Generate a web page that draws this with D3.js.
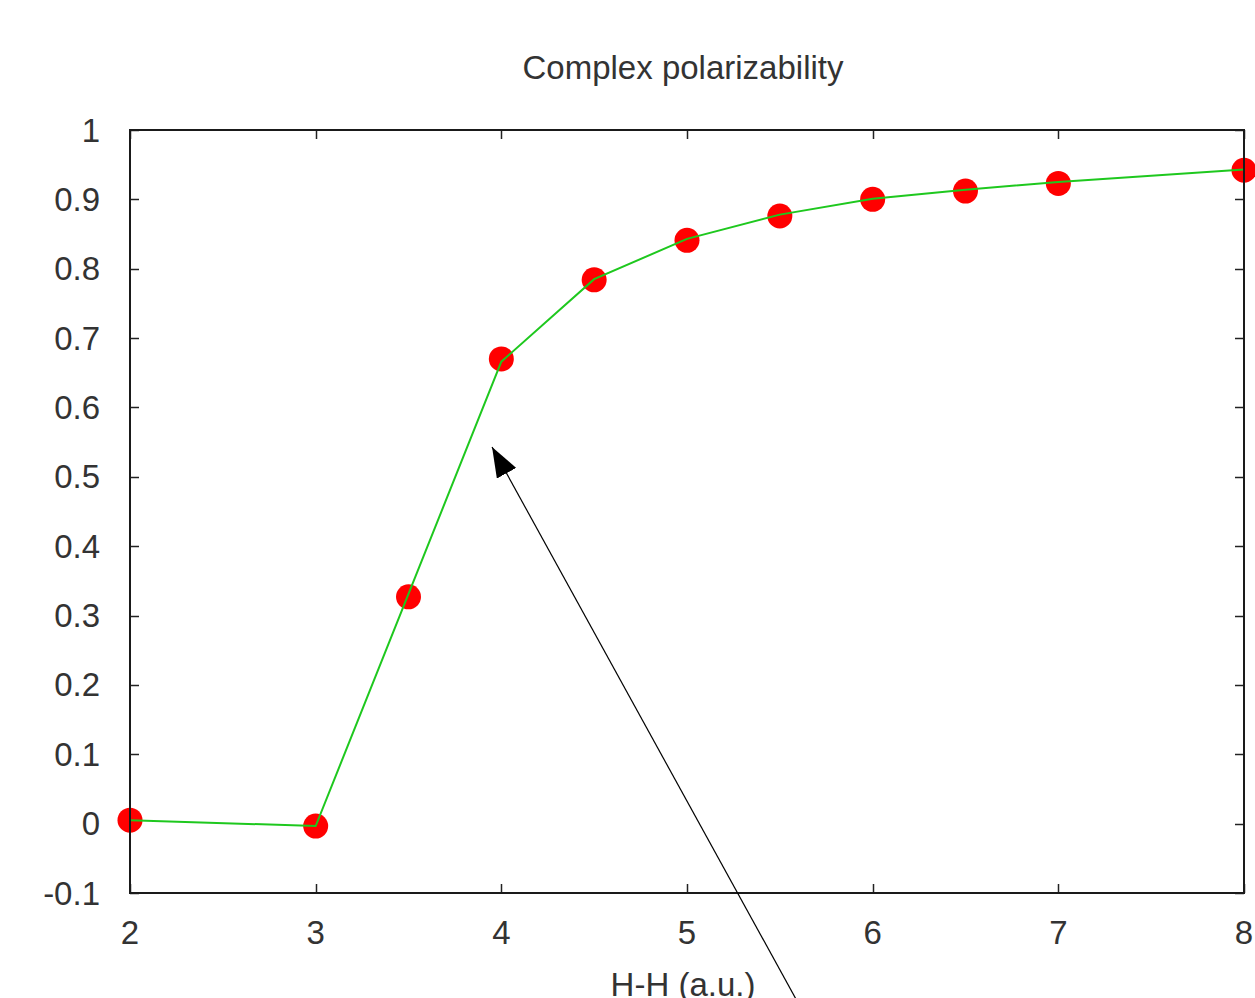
<!DOCTYPE html>
<html>
<head>
<meta charset="utf-8">
<script src="https://cdn.jsdelivr.net/npm/d3@7"></script>
<style>
    body { margin: 0; background: #ffffff; }
    text { font-family: "Liberation Sans", Arial, sans-serif; fill: #333333; }
</style>
</head>
<body>
<div id="chart"></div>
<script>
// measured points (red dots)
var point_x = [2, 3, 3.5, 4, 4.5, 5, 5.5, 6, 6.5, 7, 8];
var point_y = [0.005, -0.0035, 0.327, 0.670, 0.784, 0.841, 0.876, 0.900, 0.912, 0.923, 0.942];

// green curve
var curve_x = [2, 3, 4, 4.5, 5, 5.5, 6, 6.5, 7, 8];
var curve_y = [0.005, -0.0035, 0.666, 0.785, 0.843, 0.878, 0.901, 0.914, 0.925, 0.943];

var x_ticks = [2, 3, 4, 5, 6, 7, 8];
var y_ticks = [-0.1, 0, 0.1, 0.2, 0.3, 0.4, 0.5, 0.6, 0.7, 0.8, 0.9, 1];

// annotation arrow, in data units: tail -> head
var arrow_x = [5.62, 3.95];
var arrow_y = [-0.269, 0.543];

var title_text = "Complex polarizability";
var x_label_text = "H-H (a.u.)";

var width = 1255;
var height = 998;
var margin = {left: 130, right: 11, top: 130, bottom: 105};
var font_size = 33;

var svg = d3.select("#chart").append("svg")
            .attr("width", width)
            .attr("height", height);

var x_scale = d3.scaleLinear().domain([2, 8]).range([margin.left, width - margin.right]);
var y_scale = d3.scaleLinear().domain([-0.1, 1]).range([height - margin.bottom, margin.top]);

var tick_length = 9;
var plot_left = x_scale.range()[0];
var plot_right = x_scale.range()[1];
var plot_top = y_scale.range()[1];
var plot_bottom = y_scale.range()[0];

// inward ticks on all four sides
var tick_group = svg.append("g").attr("stroke", "#222").attr("stroke-width", 1.5);

y_ticks.forEach(function (v) {
    var y = Math.round(y_scale(v)) + 0.5;
    tick_group.append("line").attr("x1", plot_left).attr("x2", plot_left + tick_length).attr("y1", y).attr("y2", y);
    tick_group.append("line").attr("x1", plot_right).attr("x2", plot_right - tick_length).attr("y1", y).attr("y2", y);
});

x_ticks.forEach(function (v) {
    var x = Math.round(x_scale(v)) + 0.5;
    tick_group.append("line").attr("x1", x).attr("x2", x).attr("y1", plot_bottom).attr("y2", plot_bottom - tick_length);
    tick_group.append("line").attr("x1", x).attr("x2", x).attr("y1", plot_top).attr("y2", plot_top + tick_length);
});

// tick labels
svg.append("g").selectAll("text")
   .data(y_ticks)
   .enter().append("text")
   .attr("x", plot_left - 30)
   .attr("y", function (d) { return y_scale(d); })
   .attr("dy", "0.35em")
   .attr("text-anchor", "end")
   .attr("font-size", font_size)
   .text(function (d) { return String(Math.round(d * 10) / 10); });

svg.append("g").selectAll("text")
   .data(x_ticks)
   .enter().append("text")
   .attr("x", function (d) { return x_scale(d); })
   .attr("y", 944)
   .attr("text-anchor", "middle")
   .attr("font-size", font_size)
   .text(function (d) { return d; });

// green curve
var line = d3.line()
             .x(function (d) { return x_scale(d[0]); })
             .y(function (d) { return y_scale(d[1]); });

// red dots
svg.append("g").selectAll("circle")
   .data(d3.zip(point_x, point_y))
   .enter().append("circle")
   .attr("cx", function (d) { return x_scale(d[0]); })
   .attr("cy", function (d) { return y_scale(d[1]); })
   .attr("r", 12.5)
   .attr("fill", "#ff0000");

svg.append("path")
   .datum(d3.zip(curve_x, curve_y))
   .attr("d", line)
   .attr("fill", "none")
   .attr("stroke", "#1ec81e")
   .attr("stroke-width", 2);

// plot border on top
svg.append("rect")
   .attr("x", plot_left)
   .attr("y", plot_top)
   .attr("width", plot_right - plot_left)
   .attr("height", plot_bottom - plot_top)
   .attr("fill", "none")
   .attr("stroke", "#1a1a1a")
   .attr("stroke-width", 2);

// arrow annotation
svg.append("defs").append("marker")
   .attr("id", "arrow_head")
   .attr("viewBox", "0 0 30 22")
   .attr("refX", 30)
   .attr("refY", 11)
   .attr("markerWidth", 30)
   .attr("markerHeight", 22)
   .attr("markerUnits", "userSpaceOnUse")
   .attr("orient", "auto")
   .append("path")
   .attr("d", "M0,0 L30,11 L0,22 Z")
   .attr("fill", "#000");

svg.append("line")
   .attr("x1", x_scale(arrow_x[0]))
   .attr("y1", y_scale(arrow_y[0]))
   .attr("x2", x_scale(arrow_x[1]))
   .attr("y2", y_scale(arrow_y[1]))
   .attr("stroke", "#000")
   .attr("stroke-width", 1.2)
   .attr("marker-end", "url(#arrow_head)");

// title and axis label
svg.append("text")
   .attr("x", 683)
   .attr("y", 79)
   .attr("text-anchor", "middle")
   .attr("font-size", font_size)
   .text(title_text);

svg.append("text")
   .attr("x", 683)
   .attr("y", 996)
   .attr("text-anchor", "middle")
   .attr("font-size", font_size)
   .text(x_label_text);
</script>
</body>
</html>
